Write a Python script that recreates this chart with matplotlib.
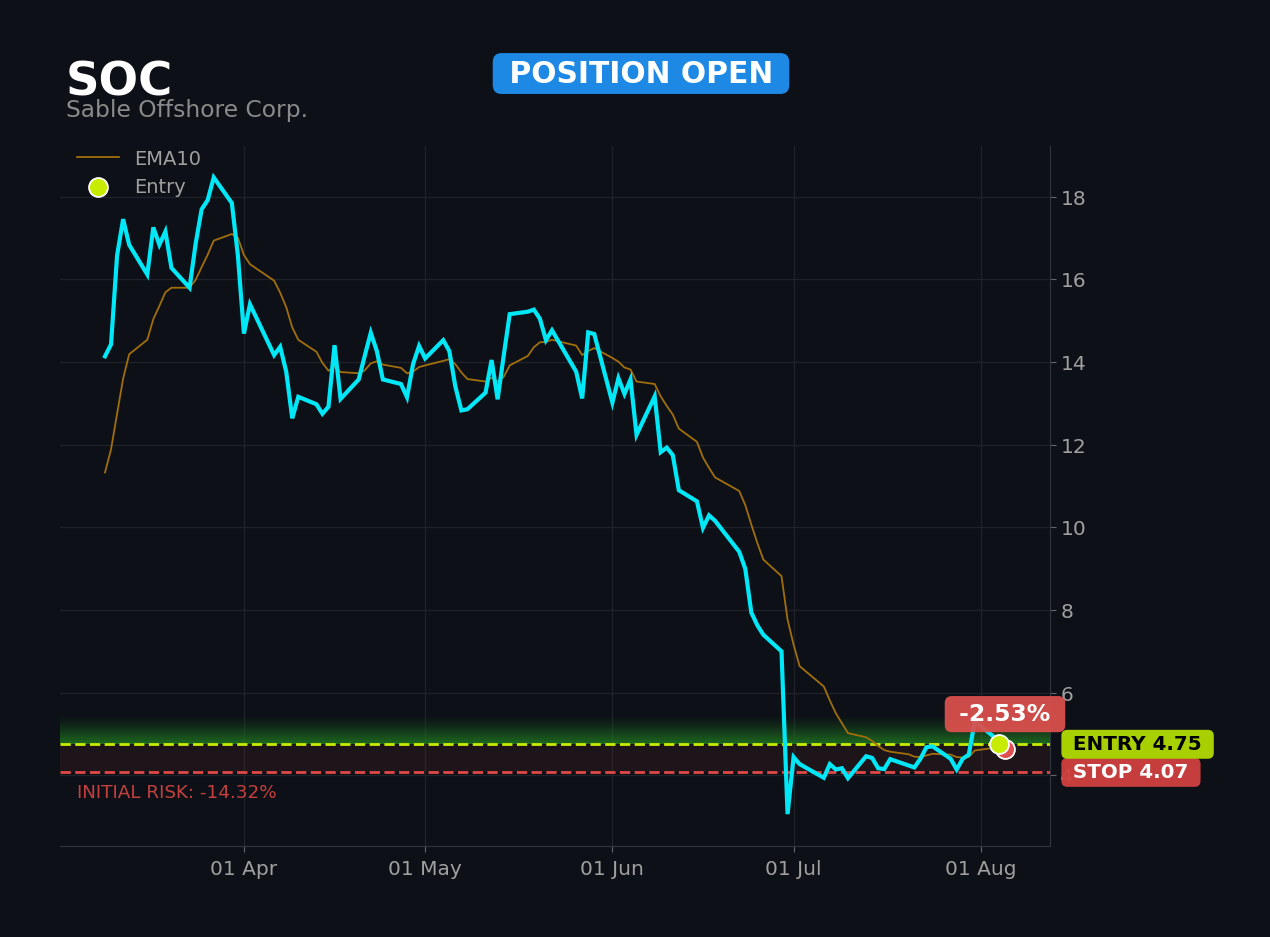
import matplotlib
matplotlib.use("Agg")
import matplotlib.pyplot as plt
import matplotlib.dates as mdates
import numpy as np
import pandas as pd

ticker = "SOC"
company = "Sable Offshore Corp."
status = "POSITION OPEN"

# trading days shown on the chart (weekdays minus market holidays)
holidays = ["2026-04-03", "2026-05-25", "2026-06-19", "2026-07-03"]
dates = pd.bdate_range("2026-03-09", "2026-08-05", freq="C", holidays=holidays)

close = [
    14.14, 14.43, 16.58, 17.46, 16.84, 16.12, 17.26, 16.84, 17.16, 16.28,
    15.80, 16.86, 17.70, 17.92, 18.47, 17.85, 16.58, 14.69, 15.40, 14.17,
    14.37, 13.77, 12.64, 13.16, 12.98, 12.75, 12.92, 14.41, 13.11, 13.58,
    14.15, 14.71, 14.27, 13.58, 13.47, 13.15, 13.95, 14.39, 14.09, 14.53,
    14.27, 13.41, 12.83, 12.86, 13.26, 14.05, 13.10, 14.15, 15.16, 15.22,
    15.27, 15.05, 14.53, 14.77, 13.77, 13.12, 14.72, 14.68, 13.02, 13.61,
    13.23, 13.58, 12.24, 13.17, 11.82, 11.93, 11.75, 10.90, 10.63, 9.99,
    10.29, 10.16, 9.41, 9.00, 7.94, 7.63, 7.40, 7.00, 3.06, 4.44,
    4.27, 3.94, 4.27, 4.14, 4.17, 3.93, 4.46, 4.42, 4.17, 4.15,
    4.39, 4.24, 4.19, 4.40, 4.68, 4.70, 4.40, 4.14, 4.40, 4.50,
    5.31, 4.95, 4.75, 4.63,
]

ema10 = [
    11.33, 11.89, 12.75, 13.60, 14.19, 14.54, 15.04, 15.36, 15.69, 15.80,
    15.80, 15.99, 16.30, 16.60, 16.94, 17.10, 17.01, 16.59, 16.37, 15.97,
    15.68, 15.33, 14.84, 14.54, 14.25, 13.98, 13.79, 13.90, 13.76, 13.73,
    13.80, 13.97, 14.02, 13.94, 13.86, 13.73, 13.77, 13.88, 13.92, 14.03,
    14.07, 13.95, 13.75, 13.59, 13.53, 13.62, 13.53, 13.64, 13.92, 14.15,
    14.36, 14.48, 14.49, 14.54, 14.40, 14.17, 14.27, 14.34, 14.10, 14.01,
    13.87, 13.82, 13.53, 13.47, 13.17, 12.94, 12.73, 12.39, 12.07, 11.69,
    11.44, 11.21, 10.88, 10.54, 10.07, 9.62, 9.22, 8.82, 7.77, 7.16,
    6.64, 6.15, 5.81, 5.50, 5.26, 5.02, 4.92, 4.83, 4.71, 4.61,
    4.57, 4.51, 4.45, 4.44, 4.48, 4.52, 4.50, 4.44, 4.43, 4.44,
    4.60, 4.66, 4.68, 4.67,
]

entry_date = pd.Timestamp("2026-08-04")
entry_price = 4.75
stop_price = 4.07

BG = "#0d1117"
CYAN = "#00e8f8"
EMA_COLOR = "#a06e0c"
ENTRY_COLOR = "#c8ec00"
STOP_COLOR = "#e04848"
TEXT_GREY = "#a0a0a0"

last_price = close[-1]
pnl_pct = (last_price / entry_price - 1) * 100
risk_pct = (stop_price / entry_price - 1) * 100

fig = plt.figure(figsize=(12.7, 9.375), dpi=100, facecolor=BG)
ax = fig.add_axes([60 / 1270, 1 - 846 / 937, 990 / 1270, 700 / 937])
ax.set_facecolor(BG)

ema_line, = ax.plot(dates, ema10, color=EMA_COLOR, lw=1.3, label="EMA10", zorder=3)
ax.plot(dates, close, color=CYAN, lw=3, zorder=4, solid_joinstyle="miter")
ax.margins(x=0.05, y=0.05)
ax.autoscale_view()
x0, x1 = ax.get_xlim()
y0, y1 = ax.get_ylim()

# risk zone between stop and entry
ax.axhspan(stop_price, entry_price, color=STOP_COLOR, alpha=0.08, lw=0, zorder=1)

# green glow above the entry
grad = np.zeros((100, 1, 4))
grad[:, 0, 0] = 0.13
grad[:, 0, 1] = 0.50
grad[:, 0, 2] = 0.13
grad[:, 0, 3] = np.linspace(0.85, 0.0, 100) ** 1.3
ax.imshow(grad, extent=[x0, x1, entry_price, entry_price + 0.7], origin="lower",
          aspect="auto", zorder=1, interpolation="bilinear")

ax.axhline(entry_price, color=ENTRY_COLOR, lw=2, ls="--", zorder=2)
ax.axhline(stop_price, color=STOP_COLOR, lw=2, ls="--", zorder=2)

ax.scatter([dates[-1]], [last_price], s=185, color="#e05050", edgecolor="white",
           linewidth=1.3, zorder=5)
entry_pt = ax.scatter([entry_date], [entry_price], s=185, color=ENTRY_COLOR,
                      edgecolor="white", linewidth=1.3, zorder=6, label="Entry")

ax.set_xlim(x0, x1)
ax.set_ylim(y0, y1)

# axes styling
ax.grid(True, color="#1f2329", lw=0.9, zorder=0)
ax.set_axisbelow(True)
ax.yaxis.tick_right()
ax.set_yticks(range(4, 19, 2))
ax.xaxis.set_major_locator(mdates.MonthLocator())
ax.xaxis.set_major_formatter(mdates.DateFormatter("%d %b"))
ax.tick_params(colors="#666666", labelcolor=TEXT_GREY, labelsize=14.5, length=4)
ax.tick_params(axis="x", pad=5.5)
for side in ["left", "top"]:
    ax.spines[side].set_visible(False)
for side in ["right", "bottom"]:
    ax.spines[side].set_color("#30363d")

leg = ax.legend(handles=[ema_line, entry_pt], loc="upper left",
                bbox_to_anchor=(0.017, 0.995), borderaxespad=0, borderpad=0,
                frameon=False, fontsize=14, labelcolor=TEXT_GREY,
                handlelength=2.15, handletextpad=0.82, labelspacing=0.48)

# header
fig.text(66 / 1270, 1 - 95 / 937, ticker, fontsize=33.5, fontweight="bold",
         color="white", va="baseline")
fig.text(66 / 1270, 1 - 117 / 937, company, fontsize=16.8, color="#8a8a8a", va="baseline")
fig.text(641 / 1270, 1 - 74 / 937, f" {status} ", fontsize=21.4, fontweight="bold",
         color="white", ha="center", va="center",
         bbox=dict(boxstyle="round,pad=0.2,rounding_size=0.3", fc="#1e88e5", ec="none"))

# labels on the right
yax = ax.get_yaxis_transform()
ax.text(1.0165, entry_price, f" ENTRY {entry_price:.2f} ", transform=yax, fontsize=14.3,
        fontweight="bold", color="black", ha="left", va="center", clip_on=False,
        zorder=10, bbox=dict(boxstyle="round,pad=0.25,rounding_size=0.3",
                             fc="#a8d000", ec="none"))
ax.text(1.0165, stop_price, f" STOP {stop_price:.2f} ", transform=yax, fontsize=14.3,
        fontweight="bold", color="white", ha="left", va="center", clip_on=False,
        zorder=9, bbox=dict(boxstyle="round,pad=0.25,rounding_size=0.3",
                            fc="#d04040", ec="none", alpha=0.95))

ax.text(dates[-1], last_price + 0.85, f" {pnl_pct:.2f}% ", fontsize=16.9,
        fontweight="bold", color="white", ha="center", va="center", zorder=10,
        bbox=dict(boxstyle="round,pad=0.28,rounding_size=0.3", fc="#d9504c",
                  ec="none", alpha=0.95))

ax.text(0.017, stop_price - 0.48, f"INITIAL RISK: {risk_pct:.2f}%", transform=yax,
        fontsize=13.2, color="#c4403f", ha="left", va="center", zorder=10)

fig.savefig("out.png", dpi=100, facecolor=BG)
